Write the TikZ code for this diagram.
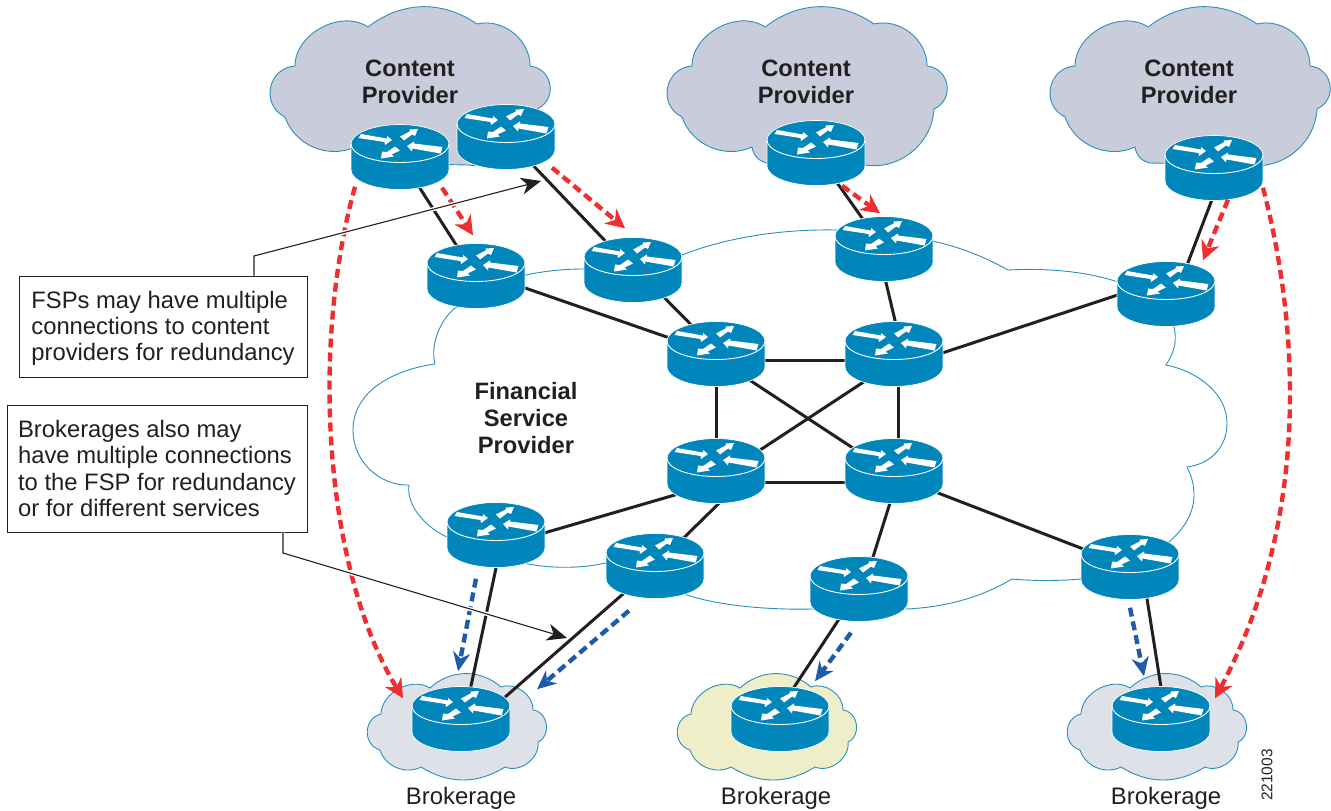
\documentclass[tikz,border=0pt]{standalone}
\usepackage{fontspec}
\setmainfont{Liberation Sans}
\usetikzlibrary{arrows.meta}
\usetikzlibrary{positioning}
\definecolor{routerblue}{HTML}{0086BB}
\definecolor{cloudline}{HTML}{2A8FBF}
\definecolor{contentgrey}{HTML}{C8CCDB}
\definecolor{brokergrey}{HTML}{DFE1E8}
\definecolor{brokeryellow}{HTML}{EEEFC9}
\definecolor{inkblack}{HTML}{231F20}
\definecolor{flowred}{HTML}{EE2E2F}
\definecolor{flowblue}{HTML}{1F5BA8}
\pgfdeclarelayer{clouds}
\pgfdeclarelayer{links}
\pgfsetlayers{clouds,links,main}
\tikzset{
	routerbox/.style={rectangle,inner sep=0pt,minimum width=98pt,minimum height=65pt},
	link/.style={draw=inkblack,line width=3pt},
	redflow/.style={draw=flowred,line width=4.4pt,dash pattern=on 9pt off 5pt,-{Stealth[length=19pt,width=19pt,inset=6pt]}},
	blueflow/.style={draw=flowblue,line width=4.4pt,dash pattern=on 9pt off 5pt,-{Stealth[length=19pt,width=17pt,inset=6pt]}},
	callout/.style={draw=inkblack,line width=1.1pt,preaction={draw=white,line width=4pt,-},-{Stealth[length=20pt,width=17pt,inset=6pt]}},
	notebox/.style={rectangle,draw=inkblack,line width=1pt,fill=white,inner sep=0pt,align=left,text=inkblack,font=\fontsize{23.8}{26.4}\selectfont},
	cloudtitle/.style={align=center,text=inkblack,font=\fontsize{23.7}{26.6}\selectfont\bfseries},
	brokerlabel/.style={anchor=base,text=inkblack,font=\fontsize{23.9}{26.6}\selectfont},
	router/.pic={
		\path[fill=routerblue,draw=white,line width=.7pt] (-49,-13) -- (-49,13) .. controls (-49,23.5) and (-27,32.5) .. (0,32.5) .. controls (27,32.5) and (49,23.5) .. (49,13) -- (49,-13) .. controls (49,-23.5) and (27,-32.5) .. (0,-32.5) .. controls (-27,-32.5) and (-49,-23.5) .. (-49,-13) -- cycle;
		\draw[white,line width=.9pt] (-49,-13) .. controls (-49,-2.5) and (-27,5.5) .. (0,5.5) .. controls (27,5.5) and (49,-2.5) .. (49,-13);
		\fill[white] (-39,-23) -- (-13,-18.5) -- (-13,-21) -- (-8,-17) -- (-15,-12) -- (-15.5,-15) -- (-41.5,-19) -- cycle;
		\fill[white] (0,-20.5) -- (9.5,-25.5) -- (10,-27.5) -- (18,-28) -- (15,-21) -- (12,-22.5) -- (4,-16.5) -- cycle;
		\fill[white] (42.5,-10) -- (14,-13.5) -- (14,-15.5) -- (7,-11) -- (12,-5.5) -- (12.5,-8.5) -- (40.5,-3.5) -- cycle;
		\fill[white] (-5,-10.5) -- (-13,-5) -- (-18,-5.5) -- (-19,1.5) -- (-6,-0.5) -- (-8.5,-2.5) -- (0,-6.5) -- cycle;
	},
	contentcloud/.pic={
		\path[pic actions,draw=cloudline,line width=.9pt] (-114,-24) to[bend left=62] (-41,-63) to[bend left=36] (68,-66) to[bend left=52] (121,-24) to[bend left=75,looseness=1.35] (128,19) to[bend left=48] (59,75) -- (-39,73) to[bend left=35] (-54,57) to[bend left=48] (-124,27) to[bend left=75,looseness=1.35] (-114,-24) -- cycle;
	},
	brokercloud/.pic={
		\path[pic actions,draw=cloudline,line width=.9pt] (-29,-31) to[bend left=42] (42,-32) to[bend left=55] (74,-9) to[bend left=75,looseness=1.2] (79,23) to[bend left=60] (46,48) to[bend left=32] (-38,48) to[bend left=50] (-79,31) to[bend left=75,looseness=1.3] (-78,-5) to[bend left=60] (-29,-31) -- cycle;
	}
}
\begin{document}
\begin{tikzpicture}[x=1pt,y=-1pt]
	\useasboundingbox (0,0) rectangle (1331,811);
	% routeurs
	\foreach \name/\pos in {A1/{400,157},A2/{506,137},A3/{816,153},A4/{1214,168},
		B1/{476,276},B2/{633,270},B3/{884,249},B4/{1166,294},
		C1/{716,354},C2/{894,354},C3/{716,471},C4/{894,471},
		D1/{496,535},D2/{655,566},D3/{859,589},D4/{1130,567},
		E1/{461,719},E2/{780,719},E3/{1161,719}}{
		\node (\name) at (\pos) [routerbox] {};
		\pic at (\name.center) {router};
	}
	% nuages
	\begin{pgfonlayer}{clouds}
		\pic[fill=contentgrey] at (409,90) {contentcloud};
		\pic[fill=contentgrey] at (806,90) {contentcloud};
		\pic[fill=contentgrey] at (1189,90) {contentcloud};
		\pic[fill=brokergrey] at (459,719) {brokercloud};
		\pic[fill=brokeryellow] at (769,719) {brokercloud};
		\pic[fill=brokergrey] at (1159,719) {brokercloud};
		\draw[draw=cloudline,line width=.9pt] (435,364) .. controls (392,370) and (353,392) .. (353,430) .. controls (353,462) and (380,486) .. (409,485) .. controls (406,505) and (425,527) .. (447,537) -- (528,564) .. controls (555,569) and (585,568) .. (605,563) -- (687,595) .. controls (720,606) and (770,610) .. (812,609) -- (907,609) .. controls (945,607) and (980,598) .. (1012,579) .. controls (1032,581) and (1060,581) .. (1080,579) -- (1169,542) .. controls (1185,528) and (1194,512) .. (1194,495) .. controls (1194,484) and (1191,475) .. (1187,467) .. controls (1210,464) and (1227,448) .. (1227,423) .. controls (1227,395) and (1200,372) .. (1166,365) .. controls (1172,355) and (1178,345) .. (1174,327) -- (1118,282) .. controls (1085,271) and (1045,268) .. (1008,270) .. controls (985,257) and (960,247) .. (932,241) -- (835,230) .. controls (780,229) and (725,238) .. (682,255) -- (583,269) .. controls (560,269) and (540,272) .. (526,275) -- (455,308) .. controls (440,320) and (430,345) .. (435,364) -- cycle;
	\end{pgfonlayer}
	% liens
	\begin{pgfonlayer}{links}
		\draw[link] (A1.center) -- (B1.center);
		\draw[link] (A2.center) -- (B2.center);
		\draw[link] (A3.center) -- (B3.center);
		\draw[link] ([shift={(10,0)}]A4.center) -- ([shift={(10,0)}]B4.center);
		\draw[link] ([shift={(0,-5)}]B1.center) -- (C1.center);
		\draw[link] ([shift={(4,0)}]B2.center) -- ([shift={(4,0)}]C1.center);
		\draw[link] ([shift={(-6,0)}]B3.center) -- ([shift={(9,0)}]C2.center);
		\draw[link] ([shift={(0,-15)}]B4.center) -- ([shift={(0,15)}]C2.center);
		\draw[link] ([shift={(0,6)}]C1.center) -- ([shift={(0,6)}]C2.center);
		\draw[link] ([shift={(0,11)}]C3.center) -- ([shift={(0,11)}]C4.center);
		\draw[link] (C1.center) -- (C3.center);
		\draw[link] ([shift={(4,0)}]C2.center) -- ([shift={(4,0)}]C4.center);
		\draw[link] ([shift={(0,4)}]C1.center) -- ([shift={(0,4)}]C4.center);
		\draw[link] ([shift={(0,8)}]C2.center) -- ([shift={(0,8)}]C3.center);
		\draw[link] ([shift={(0,12)}]C3.center) -- ([shift={(0,12)}]D1.center);
		\draw[link] ([shift={(36,0)}]C3.center) -- (D2.center);
		\draw[link] ([shift={(6,0)}]C4.center) -- ([shift={(4,0)}]D3.center);
		\draw[link] ([shift={(0,5)}]C4.center) -- (D4.center);
		\draw[link] ([shift={(7,0)}]D1.center) -- ([shift={(3,0)}]E1.center);
		\draw[link] (D2.center) -- ([shift={(19,0)}]E1.center);
		\draw[link] (D3.center) -- ([shift={(-7,0)}]E2.center);
		\draw[link] ([shift={(12,0)}]D4.center) -- ([shift={(5,0)}]E3.center);
	\end{pgfonlayer}
	% flux
	\draw[redflow] ([shift={(42,-2)}]A1.south) -- ([shift={(-3,-8)}]B1.north);
	\draw[redflow] ([shift={(46,-2)}]A2.south) -- ([shift={(-8,-9)}]B2.north);
	\draw[redflow] ([shift={(26,0)}]A3.south) -- ([shift={(-4,-3)}]B3.north);
	\draw[redflow] ([shift={(14,-1)}]A4.south) -- ([shift={(37,-1)}]B4.north);
	\draw[redflow] ([shift={(-45,-3)}]A1.south) .. controls (310,350) and (325,570) .. ([shift={(-58,12)}]E1.north);
	\draw[redflow] ([shift={(49,-13)}]A4.south) .. controls (1300,330) and (1310,520) .. ([shift={(54,12)}]E3.north);
	\draw[blueflow] ([shift={(-20,11)}]D1.south) -- ([shift={(-3,-15)}]E1.north);
	\draw[blueflow] ([shift={(-26,12)}]D2.south) -- ([shift={(76,3)}]E1.north);
	\draw[blueflow] ([shift={(-8,11)}]D3.south) -- ([shift={(35,-5)}]E2.north);
	\draw[blueflow] ([shift={(0,8)}]D4.south) -- ([shift={(-17,-10)}]E3.north);
	% textes
	\node (TITRE1) at (410,82) [cloudtitle] {Content\\Provider};
	\node (TITRE2) at (806,82) [cloudtitle] {Content\\Provider};
	\node (TITRE3) at (1189,82) [cloudtitle] {Content\\Provider};
	\node (FSP) at (526,418) [cloudtitle] {Financial\\Service\\Provider};
	\node (BROKER1) at (461,804) [brokerlabel] {Brokerage};
	\node (BROKER2) at (776,804) [brokerlabel] {Brokerage};
	\node (BROKER3) at (1166,804) [brokerlabel] {Brokerage};
	\node (REF) at (1267,775) [rotate=90,text=inkblack,font=\fontsize{15.5}{18}\selectfont] {221003};
	% notes
	\node (NOTE1) at (163,326.5) [notebox,minimum width=288pt,minimum height=101pt] {\rule{0pt}{21pt}FSPs may have multiple\\connections to content\\providers for redundancy};
	\node (NOTE2) at (157,468.5) [notebox,minimum width=300pt,minimum height=127pt] {Brokerages also may\\have multiple connections\\to the FSP for redundancy\\or for different services};
	\coordinate (COUDE1) at (254,256);
	\coordinate (POINTE1) at (541,181);
	\coordinate (COUDE2) at (283,553);
	\coordinate (POINTE2) at (567,638);
	\draw[callout] (NOTE1.north -| COUDE1) -- (COUDE1) -- (POINTE1);
	\draw[callout] (NOTE2.south -| COUDE2) -- (COUDE2) -- (POINTE2);
\end{tikzpicture}
\end{document}
